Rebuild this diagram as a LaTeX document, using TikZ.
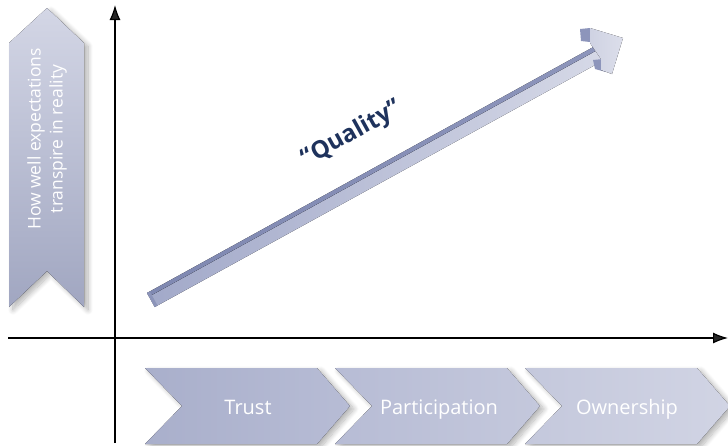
\documentclass[tikz,border=0pt]{standalone}
\usepackage{fontspec}
\setmainfont{Open Sans}
\usetikzlibrary{arrows.meta,shadows.blur}

\definecolor{navy}{RGB}{30,50,92}
\definecolor{chevA}{HTML}{A9AFCB}
\definecolor{chevB}{HTML}{B7BCD5}
\definecolor{chevC}{HTML}{C4C8DC}
\definecolor{chevD}{HTML}{D1D4E4}
\definecolor{barDark}{HTML}{7F88B1}
\definecolor{barDarkR}{HTML}{8D95BB}
\definecolor{barLeft}{HTML}{A2A9C9}
\definecolor{barRight}{HTML}{D6D9E7}
\definecolor{headLight}{HTML}{D3D6E5}

\tikzset{
  axis/.style={line width=1.2pt, -{Latex[length=15pt,width=11pt]}},
  softshadow/.style={blur shadow={shadow xshift=4pt, shadow yshift=-3pt,
      shadow blur radius=5pt, shadow blur steps=12, shadow opacity=30}},
  steplabel/.style={text=white, font=\fontsize{20}{24}\selectfont,
      inner sep=0pt, anchor=base},
  sidelabel/.style={text=white, font=\fontsize{17.5}{22}\selectfont,
      align=center, rotate=90, inner sep=0pt},
  qlabel/.style={text=navy, font=\fontsize{24}{28}\selectfont\bfseries,
      rotate=29, inner sep=0pt}
}

\begin{document}
\begin{tikzpicture}[x=1pt, y=-1pt]
\useasboundingbox (0,0) rectangle (728,445);

% vertical chevron on the left
\fill[softshadow, top color=chevD!95!white, bottom color=chevA!95!black]
  (9,43) -- (47,8) -- (84,43) -- (84,307) -- (47,271) -- (9,307) -- cycle;
\node[sidelabel] (side) at (47,139) {How well expectations\\transpire in reality};

% the three step chevrons along the bottom
\fill[softshadow, left color=chevA, right color=chevB]
  (145,368) -- (317,368) -- (350,406) -- (317,444) -- (145,444) -- (182,406) -- cycle;
\fill[softshadow, left color=chevB, right color=chevC]
  (335,368) -- (507,368) -- (540,406) -- (507,444) -- (335,444) -- (372,406) -- cycle;
\fill[softshadow, left color=chevC, right color=chevD]
  (525,368) -- (697,368) -- (730,406) -- (697,444) -- (525,444) -- (562,406) -- cycle;
\node[steplabel] (trust) at (248,414) {Trust};
\node[steplabel] (part) at (439,414) {Participation};
\node[steplabel] (own) at (627,414) {Ownership};

% axes
\coordinate (ybot) at (115,443);
\coordinate (ytop) at (115,5);
\coordinate (xleft) at (8,338);
\coordinate (xright) at (728,338);
\draw[axis] (ybot) -- (ytop);
\draw[axis] (xleft) -- (xright);

% rising 3D bar
\fill[left color=barLeft, right color=barRight]
  (149,296.5) -- (600,48.5) -- (606,59) -- (154.7,307) -- cycle;
\fill[left color=barDark, right color=barDarkR]
  (147,293) -- (597,45) -- (600,48.5) -- (149,296.5) -- cycle;
\fill[barDark!90!white]
  (147,293) -- (154.7,307) -- (157.5,305.5) -- (149.8,291.5) -- cycle;

% arrow head of the bar
\fill[barDarkR] (580,29) -- (590,28) -- (590,42) -- (581,41) -- cycle;
\fill[barDarkR] (593,60) -- (603,59) -- (606,72) -- (595,69) -- cycle;
\fill[left color=headLight!92!barLeft, right color=headLight!80!white]
  (590,28) -- (623,38) -- (612,74) -- (601,70) -- (601,59) -- (590,43) -- cycle;

\node[qlabel] (quality) at (352,134) {“Quality”};
\end{tikzpicture}
\end{document}
